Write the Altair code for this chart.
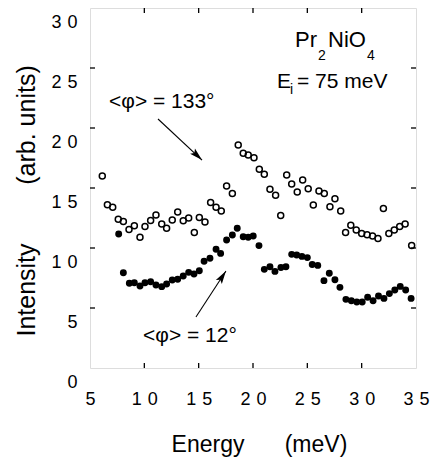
import math
import altair as alt
import pandas as pd

# ---------------- data ----------------
open_energy = [6.13, 6.6, 7.09, 7.6, 8.07, 8.59, 9.08, 9.6, 10.06, 10.58, 11.07, 11.6, 12.05,
               12.57, 13.07, 13.58, 14.08, 14.6, 15.06, 15.58, 16.1, 16.6, 17.08, 17.57, 18.1,
               18.64, 19.1, 19.56, 20.09, 20.58, 21.04, 21.56, 22.08, 22.55, 23.1, 23.56, 24.07,
               24.57, 25.08, 25.55, 26.07, 26.56, 27.08, 27.54, 28.07, 28.52, 29.0, 29.5, 30.0,
               30.5, 31.0, 31.5, 32.0, 32.5, 33.0, 33.5, 34.0, 34.6]
open_intensity = [16.0, 13.6, 13.4, 12.4, 12.2, 11.55, 11.86, 10.9, 11.8, 12.3, 12.75, 12.0, 11.64,
                  12.33, 13.0, 12.28, 12.5, 11.3, 12.55, 12.17, 13.8, 13.4, 13.08, 15.17, 14.55,
                  18.58, 17.9, 17.75, 17.53, 16.56, 16.14, 14.9, 14.4, 12.7, 16.08, 15.33, 14.67,
                  15.67, 14.94, 13.58, 14.75, 14.55, 13.44, 14.1, 13.08, 11.3, 11.9, 11.5, 11.2,
                  11.1, 11.0, 10.8, 13.3, 11.2, 11.5, 11.8, 12.0, 10.2]

filled_energy = [7.64, 8.07, 8.62, 9.08, 9.6, 10.06, 10.58, 11.07, 11.6, 12.05, 12.57, 13.07,
                 13.58, 14.08, 14.57, 15.06, 15.5, 16.04, 16.6, 17.02, 17.57, 18.1, 18.55, 19.1,
                 19.56, 20.02, 20.55, 21.04, 21.56, 22.02, 22.57, 23.03, 23.56, 24.02, 24.5, 25.0,
                 25.45, 25.96, 26.53, 27.02, 27.54, 28.0, 28.55, 29.05, 29.55, 30.05, 30.55,
                 31.05, 31.55, 32.05, 32.55, 33.05, 33.55, 34.05, 34.55]
filled_intensity = [11.17, 7.94, 7.06, 7.1, 6.83, 7.1, 7.19, 6.92, 6.78, 7.0, 7.33, 7.39,
                    7.67, 7.97, 7.83, 8.11, 8.9, 9.14, 9.9, 9.55, 10.67, 11.08, 11.64, 10.94,
                    10.89, 11.0, 10.2, 8.22, 8.44, 8.05, 8.38, 8.44, 9.47, 9.42, 9.3, 9.2,
                    8.62, 8.55, 7.28, 7.89, 7.36, 6.72, 5.72, 5.6, 5.5, 5.5, 5.9,
                    5.6, 6.0, 5.8, 6.2, 6.5, 6.8, 6.5, 5.8]

x_label_values = [5, 10, 15, 20, 25, 30, 35]
y_label_values = [0, 5, 10, 15, 20, 25, 30]
x_tick_values = [10, 15, 20, 25, 30]
y_tick_values = [5, 10, 15, 20, 25]

# annotation arrows (data coordinates): tail -> tip
arrow_tail_x = [11.26, 14.75]
arrow_tail_y = [20.75, 4.25]
arrow_tip_x = [15.31, 17.51]
arrow_tip_y = [17.33, 8.08]

# ---------------- layout ----------------
W, H = 326, 360
X0, X1, Y0, Y1 = 5, 35, 0, 30
FONT = "Liberation Sans"
xs = alt.Scale(domain=[X0, X1], nice=False, zero=False)
ys = alt.Scale(domain=[Y0, Y1], nice=False, zero=False)

spaced = ("length(datum.label) == 2 ? substring(datum.label, 0, 1) + '\u2004' + "
          "substring(datum.label, 1) : datum.label")

df_open = pd.DataFrame({"E": open_energy, "I": open_intensity})
df_filled = pd.DataFrame({"E": filled_energy, "I": filled_intensity})

open_pts = alt.Chart(df_open).mark_point(
    shape="circle", filled=False, color="black", size=36, strokeWidth=1.5, opacity=1
).encode(
    x=alt.X("E:Q", scale=xs, axis=alt.Axis(
        values=x_label_values, title=None, ticks=False, domain=False, grid=False,
        labelFontSize=18, labelPadding=22, labelFlush=False, labelExpr=spaced,
        labelFont=FONT, labelColor="black")),
    y=alt.Y("I:Q", scale=ys, axis=alt.Axis(
        values=y_label_values, title=None, ticks=False, domain=False, grid=False,
        labelFontSize=18, labelPadding=13, labelOffset=14, labelExpr=spaced,
        labelFont=FONT, labelColor="black")),
)

filled_pts = alt.Chart(df_filled).mark_circle(color="black", size=48, opacity=1).encode(
    x=alt.X("E:Q", scale=xs), y=alt.Y("I:Q", scale=ys)
)

# inward ticks on all four sides
TL = 5
df_xt = pd.DataFrame({"t": x_tick_values})
df_yt = pd.DataFrame({"t": y_tick_values})
rule = dict(color="black", strokeWidth=1.3)
ticks = [
    alt.Chart(df_xt).mark_rule(**rule).encode(x=alt.X("t:Q", scale=xs), y=alt.value(H), y2=alt.value(H - TL)),
    alt.Chart(df_xt).mark_rule(**rule).encode(x=alt.X("t:Q", scale=xs), y=alt.value(0), y2=alt.value(TL)),
    alt.Chart(df_yt).mark_rule(**rule).encode(y=alt.Y("t:Q", scale=ys), x=alt.value(0), x2=alt.value(TL)),
    alt.Chart(df_yt).mark_rule(**rule).encode(y=alt.Y("t:Q", scale=ys), x=alt.value(W), x2=alt.value(W - TL)),
]

# arrows
df_arrow = pd.DataFrame({"x": arrow_tail_x, "y": arrow_tail_y, "x2": arrow_tip_x, "y2": arrow_tip_y})
arrow_lines = alt.Chart(df_arrow).mark_rule(color="black", strokeWidth=1.1).encode(
    x=alt.X("x:Q", scale=xs), y=alt.Y("y:Q", scale=ys), x2="x2:Q", y2="y2:Q"
)
HEAD = 13.0
px_per_x = W / (X1 - X0)
px_per_y = H / (Y1 - Y0)
head_x, head_y, head_a = [], [], []
for tx, ty, hx, hy in zip(arrow_tail_x, arrow_tail_y, arrow_tip_x, arrow_tip_y):
    dx = (hx - tx) * px_per_x
    dy = -(hy - ty) * px_per_y
    L = math.hypot(dx, dy)
    ux, uy = dx / L, dy / L
    head_x.append(hx - (HEAD / 2) * ux / px_per_x)
    head_y.append(hy + (HEAD / 2) * uy / px_per_y)
    head_a.append(math.degrees(math.atan2(dx, -dy)) % 360)
df_head = pd.DataFrame({"x": head_x, "y": head_y, "a": head_a})
arrow_heads = alt.Chart(df_head).mark_point(
    shape="M0,-1L0.55,1L0,0.6L-0.55,1Z", filled=True, color="black", size=HEAD * HEAD, opacity=1, strokeWidth=0
).encode(x=alt.X("x:Q", scale=xs), y=alt.Y("y:Q", scale=ys), angle=alt.Angle("a:Q", scale=None))


def text(s, x, y, size, align="left", baseline="alphabetic", angle=0):
    return alt.Chart(pd.DataFrame({"t": [s]})).mark_text(
        text=s, font=FONT, fontSize=size, color="black", align=align, baseline=baseline, angle=angle
    ).encode(x=alt.value(x), y=alt.value(y))


texts = [
    text("<\u03c6> = 133\u00b0", 19, 100, 21),
    text("<\u03c6> = 12\u00b0", 53, 334, 21),
    text("Pr", 205, 39, 22),
    text("2", 228, 52, 14),
    text("NiO", 238, 39, 22),
    text("4", 277, 52, 14),
    text("E", 187, 80, 21),
    text("i", 200, 86, 14),
    text("= 75 meV", 207, 80, 21),
    text("Energy", 118, 444, 23, align="center"),
    text("(meV)", 226, 444, 23, align="center"),
    text("Intensity", -63, 282, 25, align="center", baseline="middle", angle=270),
    text("(arb. units)", -63, 117, 25, align="center", baseline="middle", angle=270),
]

chart = alt.layer(
    *ticks, arrow_lines, arrow_heads, open_pts, filled_pts, *texts
).properties(
    width=W, height=H,
    autosize=alt.AutoSizeParams(type="none"),
    padding={"left": 90, "top": 8, "right": 14, "bottom": 99},
).configure_view(
    stroke="black", strokeWidth=1.4
).configure(background="white")

chart.save("out.html", embed_options={"renderer": "svg", "actions": False})
